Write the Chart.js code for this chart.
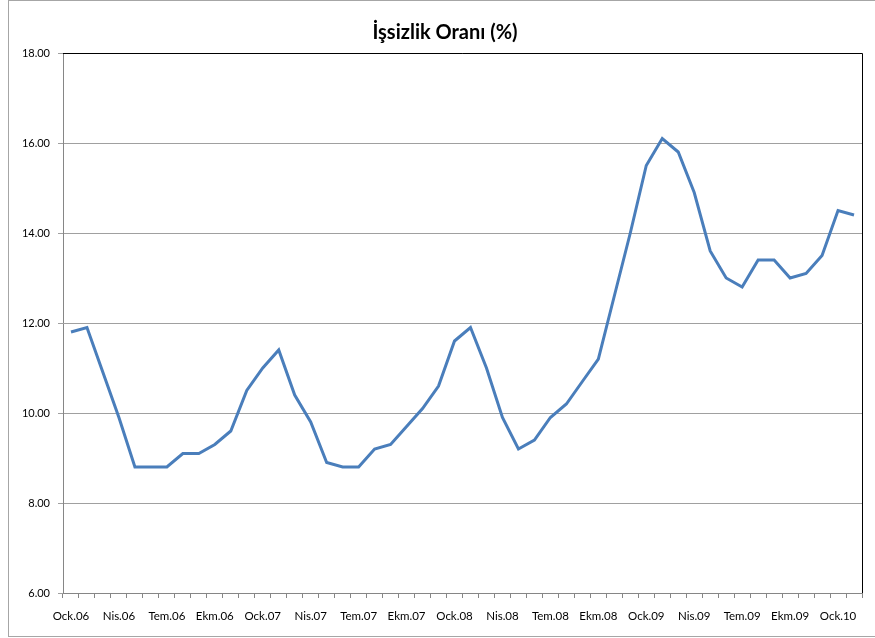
<!DOCTYPE html>
<html>
<head>
<meta charset="utf-8">
<title>İşsizlik Oranı</title>
<script src="https://cdn.jsdelivr.net/npm/chart.js@4.4.1/dist/chart.umd.min.js"></script>
<style>
    body {
        margin: 0;
        background: #ffffff;
        overflow: hidden;
    }
    #chart-box {
        position: relative;
        width: 875px;
        height: 638px;
    }
</style>
</head>
<body>
<div id="chart-box">
    <canvas id="unemploymentChart" width="875" height="638"></canvas>
</div>
<script>
const chartTitle = "İşsizlik Oranı (%)";

// monthly categories, Ocak 2006 - Şubat 2010
const categories = [
    "Ock.06", "Şub.06", "Mar.06", "Nis.06", "May.06", "Haz.06", "Tem.06", "Ağu.06", "Eyl.06", "Ekm.06", "Kas.06", "Ara.06",
    "Ock.07", "Şub.07", "Mar.07", "Nis.07", "May.07", "Haz.07", "Tem.07", "Ağu.07", "Eyl.07", "Ekm.07", "Kas.07", "Ara.07",
    "Ock.08", "Şub.08", "Mar.08", "Nis.08", "May.08", "Haz.08", "Tem.08", "Ağu.08", "Eyl.08", "Ekm.08", "Kas.08", "Ara.08",
    "Ock.09", "Şub.09", "Mar.09", "Nis.09", "May.09", "Haz.09", "Tem.09", "Ağu.09", "Eyl.09", "Ekm.09", "Kas.09", "Ara.09",
    "Ock.10", "Şub.10"
];

const unemploymentRate = [
    11.8, 11.9, 10.9, 9.9, 8.8, 8.8, 8.8, 9.1, 9.1, 9.3, 9.6, 10.5,
    11.0, 11.4, 10.4, 9.8, 8.9, 8.8, 8.8, 9.2, 9.3, 9.7, 10.1, 10.6,
    11.6, 11.9, 11.0, 9.9, 9.2, 9.4, 9.9, 10.2, 10.7, 11.2, 12.6, 14.0,
    15.5, 16.1, 15.8, 14.9, 13.6, 13.0, 12.8, 13.4, 13.4, 13.0, 13.1, 13.5,
    14.5, 14.4
];

const yTicks = [6, 8, 10, 12, 14, 16, 18];

// outer frame, plot border and title, drawn like the excel chart
const chartFrame = {
    id: "chartFrame",
    beforeDraw(chart) {
        const ctx = chart.ctx;
        ctx.save();
        ctx.fillStyle = "#ffffff";
        ctx.fillRect(0, 0, chart.width, chart.height);
        ctx.restore();
    },
    afterDraw(chart) {
        const ctx = chart.ctx;
        const area = chart.chartArea;
        ctx.save();

        // chart border
        ctx.strokeStyle = "#a6a6a6";
        ctx.lineWidth = 1;
        ctx.strokeRect(8.5, 0.5, 900, 636);

        // plot area border (top and right)
        ctx.strokeStyle = "#000000";
        ctx.beginPath();
        ctx.moveTo(area.left, Math.round(area.top) + 0.5);
        ctx.lineTo(Math.round(area.right) + 0.5, Math.round(area.top) + 0.5);
        ctx.lineTo(Math.round(area.right) + 0.5, area.bottom);
        ctx.stroke();

        // title
        ctx.fillStyle = "#000000";
        ctx.font = "bold 20px Lato";
        ctx.textAlign = "center";
        ctx.textBaseline = "middle";
        ctx.fillText(chartTitle, 445, 33);

        ctx.restore();
    }
};

new Chart(document.getElementById("unemploymentChart"), {
    type: "line",

    data: {
        labels: categories,
        datasets: [{
            label: chartTitle,
            data: unemploymentRate,
            borderColor: "#4a7ebb",
            backgroundColor: "#4a7ebb",
            borderWidth: 3,
            pointRadius: 0,
            pointHoverRadius: 0,
            tension: 0,
            borderJoinStyle: "miter"
        }]
    },

    options: {
        responsive: false,
        animation: false,
        devicePixelRatio: 1,

        layout: {
            padding: {
                top: 53,
                left: 8,
                right: 13,
                bottom: 0
            }
        },

        plugins: {
            legend: {
                display: false
            },
            title: {
                display: false
            },
            tooltip: {
                enabled: false
            }
        },

        scales: {
            x: {
                offset: true,
                afterFit: function (scale) {
                    scale.height = 45;
                },
                grid: {
                    offset: true,
                    drawOnChartArea: false,
                    drawTicks: true,
                    tickLength: 5,
                    color: "#868686"
                },
                border: {
                    display: true,
                    color: "#868686",
                    width: 1
                },
                ticks: {
                    autoSkip: false,
                    maxRotation: 0,
                    minRotation: 0,
                    padding: 11,
                    color: "#000000",
                    font: {
                        family: "Lato",
                        size: 11.5
                    },
                    callback: function (value, index) {
                        return index % 3 === 0 ? categories[index] : "";
                    }
                }
            },

            y: {
                min: yTicks[0],
                max: yTicks[yTicks.length - 1],
                afterFit: function (scale) {
                    scale.width = 55;
                },
                afterBuildTicks: function (scale) {
                    scale.ticks = yTicks.map(v => ({ value: v }));
                },
                grid: {
                    color: "#a0a0a0",
                    drawTicks: true,
                    tickLength: 5
                },
                border: {
                    display: true,
                    color: "#868686",
                    width: 1
                },
                ticks: {
                    padding: 8,
                    color: "#000000",
                    font: {
                        family: "Lato",
                        size: 11
                    },
                    callback: function (value) {
                        return Number(value).toFixed(2);
                    }
                }
            }
        }
    },

    plugins: [chartFrame]
});
</script>
</body>
</html>
